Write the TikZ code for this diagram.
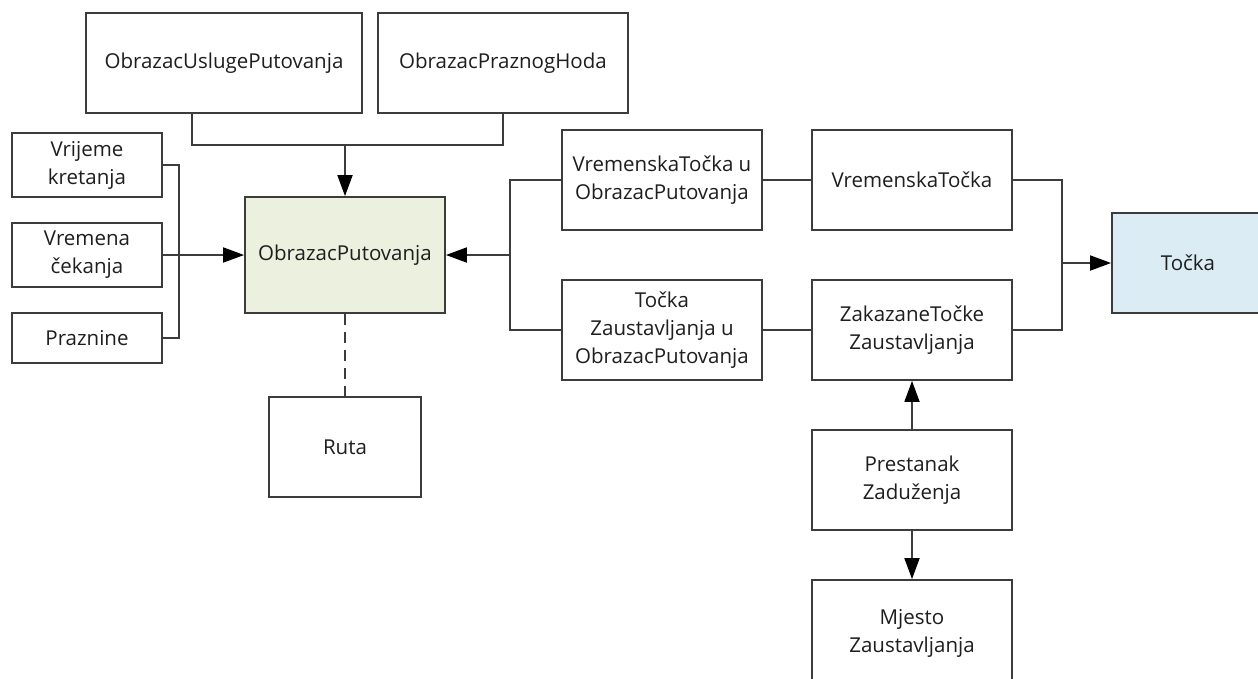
\documentclass[tikz,border=0pt]{standalone}
\usepackage{fontspec}
\setmainfont{Open Sans}
\usetikzlibrary{arrows.meta,calc}
\definecolor{linec}{RGB}{60,60,60}
\definecolor{txtc}{RGB}{30,30,30}
\definecolor{greenf}{RGB}{235,241,222}
\definecolor{bluef}{RGB}{219,236,244}
\tikzset{
  box/.style={draw=linec, line width=1.8pt, fill=white, align=center, inner sep=0pt,
    font=\fontsize{20.5}{28}\selectfont, text=txtc},
  conn/.style={draw=linec, line width=1.8pt},
  arr/.style={conn, -{Triangle[length=21pt,width=15pt,color=black]}},
}
\begin{document}
\begin{tikzpicture}[x=1pt,y=-1pt]
\useasboundingbox (0,0) rectangle (1258,678);
\fill[white] (0,0) rectangle (1258,678);
\node[box, minimum width=276pt, minimum height=100pt] (oup) at (224,63) {ObrazacUslugePutovanja};
\node[box, minimum width=250pt, minimum height=100pt] (oph) at (503,63) {ObrazacPraznogHoda};
\node[box, minimum width=150pt, minimum height=64pt] (vk) at (87,165) {Vrijeme\\kretanja};
\node[box, minimum width=150pt, minimum height=64pt] (vc) at (87,255) {Vremena\\čekanja};
\node[box, minimum width=150pt, minimum height=50pt] (pr) at (87,338) {Praznine};
\node[box, fill=greenf, minimum width=200pt, minimum height=116pt] (op) at (345,255) {ObrazacPutovanja};
\node[box, minimum width=152pt, minimum height=100pt] (ruta) at (345,447) {Ruta};
\node[box, minimum width=200pt, minimum height=100pt] (vtop) at (662,180) {VremenskaTočka u\\ObrazacPutovanja};
\node[box, minimum width=200pt, minimum height=100pt] (tzop) at (662,330) {Točka\\Zaustavljanja u\\ObrazacPutovanja};
\node[box, minimum width=200pt, minimum height=100pt] (vt) at (912,180) {VremenskaTočka};
\node[box, minimum width=200pt, minimum height=100pt] (zt) at (912,330) {ZakazaneTočke\\Zaustavljanja};
\node[box, fill=bluef, minimum width=152pt, minimum height=100pt] (tocka) at (1188,263) {Točka};
\node[box, minimum width=200pt, minimum height=100pt] (pz) at (912,480) {Prestanak\\Zaduženja};
\node[box, minimum width=200pt, minimum height=106pt] (mz) at (912,633) {Mjesto\\Zaustavljanja};
\coordinate (j1) at (345,145);
\coordinate (j2) at (510,255);
\coordinate (j3) at (1062,263);
\draw[conn] ($(oup.south)+(-32,0)$) |- (oph.south |- j1) -- (oph.south);
\draw[arr] (j1) -- (op.north);
\draw[conn] (vk.east) -- ++(16,0) |- (pr.east);
\draw[arr] (vc.east) -- (op.west);
\draw[conn] (vtop.west) -| (j2) |- (tzop.west);
\draw[arr] (j2) -- (op.east);
\draw[conn] (vtop.east) -- (vt.west);
\draw[conn] (tzop.east) -- (zt.west);
\draw[conn] (vt.east) -| (j3) |- (zt.east);
\draw[arr] (j3) -- (tocka.west);
\draw[arr] (pz.north) -- (zt.south);
\draw[arr] (pz.south) -- (mz.north);
\draw[conn, dash pattern=on 11pt off 7pt] (op.south) -- (ruta.north);
\end{tikzpicture}
\end{document}
